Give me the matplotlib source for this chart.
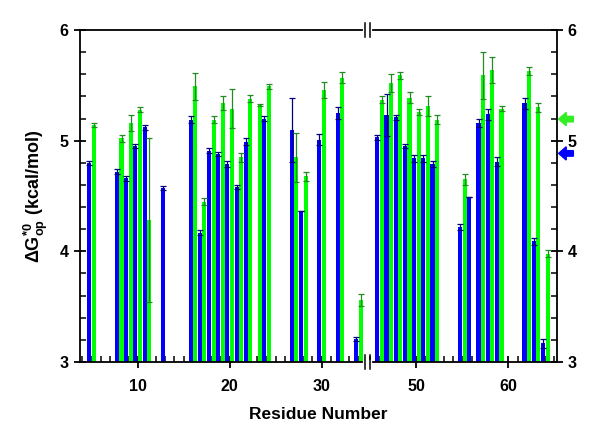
import matplotlib
matplotlib.use('Agg')
import matplotlib.pyplot as plt
from matplotlib.patches import FancyArrow
from matplotlib.ticker import FixedLocator, MultipleLocator

plt.rcParams['font.family'] = ['Liberation Sans', 'DejaVu Sans']
plt.rcParams['font.weight'] = 'bold'
plt.rcParams['mathtext.fontset'] = 'custom'
plt.rcParams['mathtext.rm'] = 'Liberation Sans:bold'
plt.rcParams['mathtext.bf'] = 'Liberation Sans:bold'
plt.rcParams['mathtext.default'] = 'bf'

# data: residue, dG (kcal/mol), error
blue_res = [5, 8, 9, 10, 11, 13, 16, 17, 18, 19, 20, 21, 22, 24, 27, 28, 30, 32, 34,
            46, 47, 48, 49, 50, 51, 52, 55, 56, 57, 58, 59, 62, 63, 64]
blue_val = [4.80, 4.72, 4.66, 4.95, 5.12, 4.57, 5.19, 4.17, 4.91, 4.88, 4.79, 4.58, 4.99,
            5.20, 5.10, 4.36, 5.01, 5.25, 3.21,
            5.03, 5.23, 5.21, 4.95, 4.84, 4.84, 4.79, 4.22, 4.49, 5.16, 5.24, 4.81,
            5.34, 4.09, 3.17]
blue_err = [0.02, 0.02, 0.02, 0.02, 0.02, 0.02, 0.03, 0.02, 0.02, 0.02, 0.03, 0.02, 0.03,
            0.02, 0.29, 0.0, 0.05, 0.05, 0.02,
            0.02, 0.19, 0.02, 0.02, 0.03, 0.03, 0.03, 0.03, 0.0, 0.04, 0.05, 0.04,
            0.05, 0.03, 0.04]

green_res = [5, 8, 9, 10, 11, 16, 17, 18, 19, 20, 21, 22, 23, 24, 27, 28, 30, 32, 34,
             46, 47, 48, 49, 50, 51, 52, 55, 57, 58, 59, 62, 63, 64]
green_val = [5.14, 5.02, 5.16, 5.28, 4.28, 5.49, 4.45, 5.19, 5.34, 5.29, 4.85, 5.38, 5.32,
             5.49, 4.85, 4.68, 5.46, 5.57, 3.56,
             5.37, 5.52, 5.59, 5.39, 5.26, 5.31, 5.19, 4.65, 5.59, 5.64, 5.29,
             5.63, 5.30, 3.98]
green_err = [0.02, 0.035, 0.07, 0.02, 0.74, 0.12, 0.03, 0.03, 0.06, 0.18, 0.04, 0.03, 0.01,
             0.02, 0.22, 0.04, 0.07, 0.05, 0.05,
             0.03, 0.08, 0.03, 0.05, 0.03, 0.09, 0.04, 0.05, 0.21, 0.12, 0.02,
             0.04, 0.04, 0.03]

xtick_res = [10, 20, 30, 50, 60]
blue_avg = 4.885
green_avg = 5.195

SHIFT = 9.7  # residues 36-44 are cut out of the axis


def pos(r):
    return r if r < 40 else r - SHIFT


fig = plt.figure(figsize=(6, 4.4), dpi=100)
ax = fig.add_axes([0.1333, 0.1773, 0.7945, 0.7545])

bw = 0.45
bx = [pos(r) - 0.25 for r in blue_res]
gx = [pos(r) + 0.25 for r in green_res]
ax.bar(bx, blue_val, width=bw, color='#0000ff', zorder=2)
ax.bar(gx, green_val, width=bw, color='#00ff00', zorder=2)
ax.errorbar(bx, blue_val, yerr=blue_err, fmt='none', ecolor='#000080',
            elinewidth=0.9, capsize=2.2, capthick=0.9, zorder=3)
ax.errorbar(gx, green_val, yerr=green_err, fmt='none', ecolor='#228b22',
            elinewidth=0.9, capsize=2.2, capthick=0.9, zorder=3)

ax.set_xlim(3.73, 55.54)
ax.set_ylim(3, 6)

# x ticks
ax.xaxis.set_major_locator(FixedLocator([pos(r) for r in xtick_res]))
ax.set_xticklabels([str(r) for r in xtick_res])
minor = [pos(r) for r in list(range(4, 35)) + list(range(45, 66))]
ax.xaxis.set_minor_locator(FixedLocator(minor))
ax.yaxis.set_major_locator(MultipleLocator(1))
ax.yaxis.set_minor_locator(MultipleLocator(0.2))

ax.tick_params(which='major', direction='inout', length=9, width=1.3,
               labelsize=11.5, right=True, labelright=True, top=False)
ax.tick_params(which='minor', direction='in', length=4, width=1.1,
               right=True, top=False)
ax.tick_params(axis='x', pad=8)
for s in ax.spines.values():
    s.set_linewidth(1.3)

ax.set_xlabel('Residue Number', fontsize=12.5, fontweight='bold', labelpad=9)
ax.set_ylabel('ΔG$^{*0}_{op}$ (kcal/mol)', fontsize=13, fontweight='bold',
              labelpad=7)

# axis break marks
trans = ax.get_xaxis_transform()
for yy in (0, 1):
    ax.plot([34.72, 35.2], [yy, yy], color='white', lw=3, transform=trans,
            clip_on=False, zorder=5)
    for xb in (34.72, 35.2):
        ax.plot([xb, xb], [yy - 0.021, yy + 0.021], color='black', lw=1.1,
                transform=trans, clip_on=False, zorder=6)

# average arrows on the right
ytrans = ax.get_yaxis_transform()
for yv, col in ((green_avg, '#33ee22'), (blue_avg, '#0000ff')):
    ax.add_patch(FancyArrow(1.035, yv, -0.031, 0, width=0.05, head_width=0.12,
                            head_length=0.016, length_includes_head=True,
                            color=col, transform=ytrans, clip_on=False, zorder=6))

fig.savefig('out.png', dpi=100)
